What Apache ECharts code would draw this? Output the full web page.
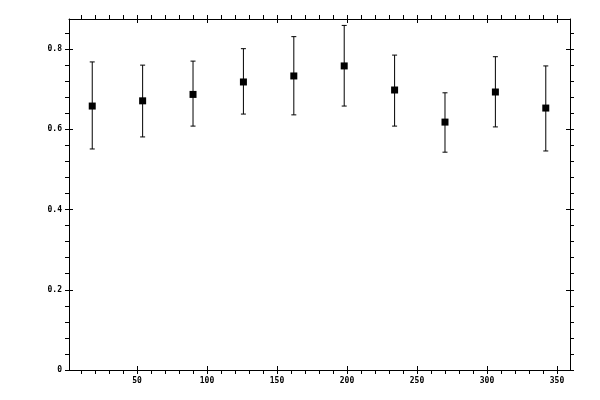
<!DOCTYPE html>
<html>
<head>
<meta charset="utf-8">
<script src="https://cdn.jsdelivr.net/npm/echarts@6/dist/echarts.min.js"></script>
<style>
  html, body { margin: 0; padding: 0; background: #fff; }
  #chart { width: 600px; height: 400px; }
</style>
</head>
<body>
<div id="chart"></div>
<script>
// measured values
var xValues = [18, 54, 90, 126, 162, 198, 234, 270, 306, 342];
var means = [0.658, 0.671, 0.687, 0.718, 0.733, 0.758, 0.698, 0.618, 0.693, 0.653];
var lows = [0.551, 0.581, 0.608, 0.638, 0.636, 0.658, 0.608, 0.543, 0.606, 0.546];
var highs = [0.768, 0.760, 0.770, 0.801, 0.831, 0.859, 0.785, 0.691, 0.781, 0.758];

var xMajor = [50, 100, 150, 200, 250, 300, 350];
var xMinor = [10, 20, 30, 40, 50, 60, 70, 80, 90, 100, 110, 120, 130, 140, 150, 160, 170, 180,
              190, 200, 210, 220, 230, 240, 250, 260, 270, 280, 290, 300, 310, 320, 330, 340, 350];
var yMajor = [0, 0.2, 0.4, 0.6, 0.8];
var yMinor = [0, 0.04, 0.08, 0.12, 0.16, 0.2, 0.24, 0.28, 0.32, 0.36, 0.4, 0.44, 0.48, 0.52,
              0.56, 0.6, 0.64, 0.68, 0.72, 0.76, 0.8, 0.84];

var X_MIN = 1.4, X_MAX = 359.3, Y_MIN = 0, Y_MAX = 0.875;

var pointData = xValues.map(function (x, i) { return [x, means[i]]; });
var barData = xValues.map(function (x, i) { return [x, lows[i], highs[i]]; });

function extend(a, b) { for (var k in b) a[k] = b[k]; return a; }

var labelFont = { color: '#000', fontFamily: 'DejaVu Sans Mono', fontSize: 8, fontWeight: 'bold' };
var lineStyle = { color: '#000', width: 1 };

function xAxisDef(pos, inside, ticks, labels, showLine) {
    return {
        type: 'value', position: pos, min: X_MIN, max: X_MAX,
        axisLine: { show: showLine, onZero: false, lineStyle: lineStyle },
        axisTick: { show: true, inside: inside, length: 4, lineStyle: lineStyle, customValues: ticks },
        axisLabel: labels ? extend({ show: true, margin: 7, customValues: labels }, labelFont) : { show: false },
        splitLine: { show: false }
    };
}
function yAxisDef(pos, inside, ticks, labels, showLine) {
    return {
        type: 'value', position: pos, min: Y_MIN, max: Y_MAX,
        axisLine: { show: showLine, onZero: false, lineStyle: lineStyle },
        axisTick: { show: true, inside: inside, length: 4, lineStyle: lineStyle, customValues: ticks },
        axisLabel: labels ? extend({
            show: true, margin: 7, customValues: labels,
            formatter: function (v) { return v === 0 ? '0' : v.toFixed(1); }
        }, labelFont) : { show: false },
        splitLine: { show: false }
    };
}

var myChart = echarts.init(document.getElementById('chart'));
myChart.setOption({
    animation: false,
    grid: { left: 69, right: 30, top: 19, bottom: 30, containLabel: false },
    xAxis: [
        xAxisDef('bottom', false, xMinor, xMajor, true),
        xAxisDef('bottom', true, xMajor, null, false),
        xAxisDef('top', false, xMinor, null, true),
        xAxisDef('top', true, xMajor, null, false)
    ],
    yAxis: [
        yAxisDef('left', false, yMinor, yMajor, true),
        yAxisDef('left', true, yMajor, null, false),
        yAxisDef('right', false, yMinor, null, true),
        yAxisDef('right', true, yMajor, null, false)
    ],
    series: [
        {
            type: 'custom',
            data: barData,
            renderItem: function (params, api) {
                var x = api.value(0);
                var lo = api.coord([x, api.value(1)]);
                var hi = api.coord([x, api.value(2)]);
                var cap = 2.5;
                var st = { stroke: '#000', lineWidth: 1 };
                return {
                    type: 'group',
                    children: [
                        { type: 'line', shape: { x1: hi[0], y1: hi[1], x2: lo[0], y2: lo[1] }, style: st },
                        { type: 'line', shape: { x1: hi[0] - cap, y1: hi[1], x2: hi[0] + cap, y2: hi[1] }, style: st },
                        { type: 'line', shape: { x1: lo[0] - cap, y1: lo[1], x2: lo[0] + cap, y2: lo[1] }, style: st }
                    ]
                };
            },
            z: 2
        },
        {
            type: 'scatter',
            data: pointData,
            symbol: 'rect',
            symbolSize: 7,
            itemStyle: { color: '#000', opacity: 1 },
            z: 3
        }
    ]
});
</script>
</body>
</html>
